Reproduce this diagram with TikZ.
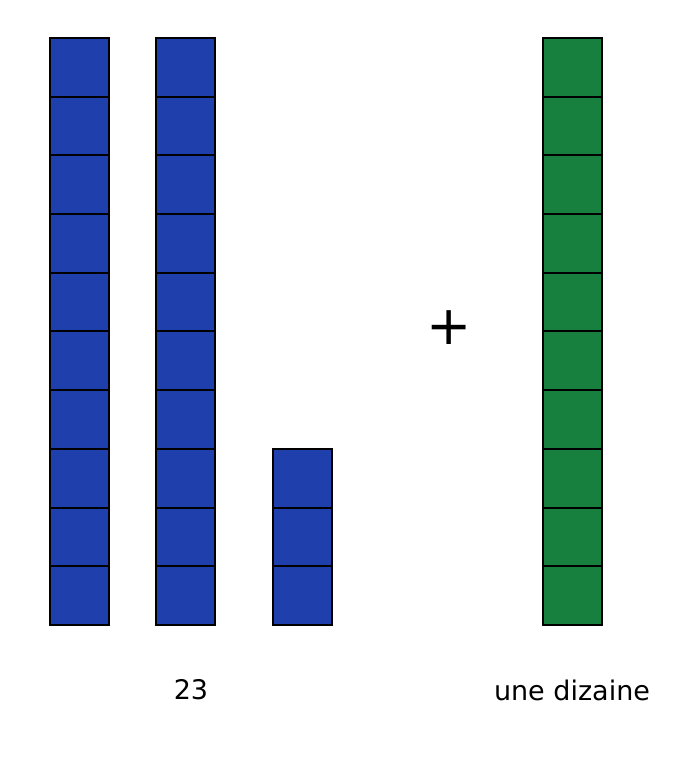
\documentclass[tikz,border=0pt]{standalone}
\usepackage{fontspec}
\setmainfont{DejaVu Sans}
\definecolor{bleu}{HTML}{1F3FAD}
\definecolor{vert}{HTML}{17803F}
\begin{document}
\begin{tikzpicture}[x=0.5pt,y=-0.5pt,
	cube/.style={draw=black,line width=1pt,minimum width=29.5pt,minimum height=29.35pt,inner sep=0pt,outer sep=0pt},
	etiquette/.style={font=\fontsize{13.5}{16}\selectfont}]
	\useasboundingbox (0,0) rectangle (687,769);
	\def\h{58.7} % hauteur d'un cube
	\def\haut{38}
	% deux dizaines
	\foreach \i in {1,...,10}{
		\node[cube,fill=bleu] (a\i) at (79.5,{\haut+\h*(\i-0.5)}) {};
		\node[cube,fill=bleu] (b\i) at (185,{\haut+\h*(\i-0.5)}) {};
	}
	% trois unites
	\foreach \i in {8,9,10}
		\node[cube,fill=bleu] (c\i) at (302.5,{\haut+\h*(\i-0.5)}) {};
	% la dizaine ajoutee
	\foreach \i in {1,...,10}
		\node[cube,fill=vert] (d\i) at (572.5,{\haut+\h*(\i-0.5)}) {};
	\node[font=\fontsize{27}{30}\selectfont] (plus) at (449,328) {+};
	\node[etiquette] (nombre) at (191,690) {23};
	\node[etiquette] (dizaine) at (572,690) {une dizaine};
\end{tikzpicture}
\end{document}
